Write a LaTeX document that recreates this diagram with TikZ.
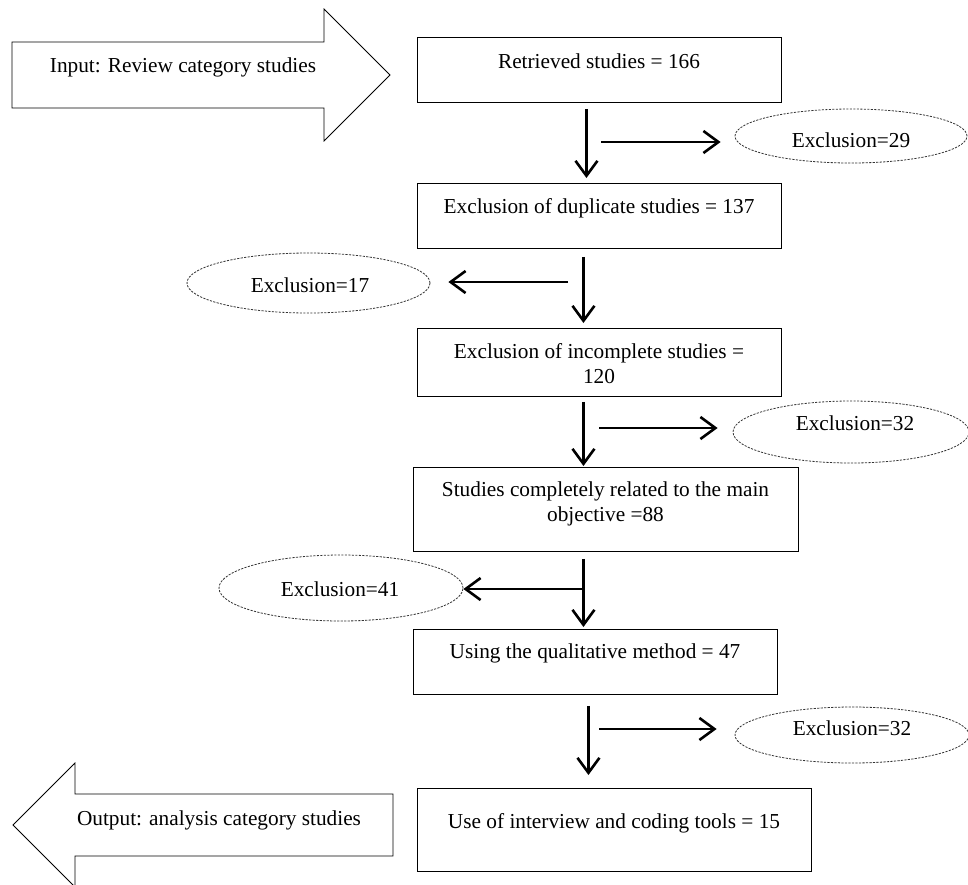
\documentclass[tikz,border=0pt]{standalone}
\usepackage{fontspec}
\setmainfont{Liberation Serif}
\usetikzlibrary{arrows.meta,shapes.geometric}
\begin{document}
\begin{tikzpicture}[x=1pt,y=-1pt,
  box/.style={draw=black, line width=0.9pt, inner sep=0pt, anchor=north west},
  txt/.style={font=\fontsize{21.3}{25}\selectfont, inner sep=0pt, align=center},
  excl/.style={draw=black!80, line width=0.8pt, dash pattern=on 2.2pt off 1.3pt,
               ellipse, inner sep=0pt},
  arr/.style={line width=2.6pt, -{Straight Barb[length=15pt,width=22pt]}},
  bigarrow/.style={draw=black, line width=0.8pt}
]
\useasboundingbox (0,0) rectangle (968,884);

% big block arrows
\draw[bigarrow] (12,42) -- (324,42) -- (324,9) -- (390,75) -- (324,141) -- (324,108) -- (12,108) -- cycle;
\node[txt, anchor=base] (tin) at (183,72) {Input: Review category studies};
\draw[bigarrow] (393,794) -- (75,794) -- (75,763) -- (13,825) -- (75,887) -- (75,856) -- (393,856) -- cycle;
\node[txt, anchor=base] (tout) at (219,825) {Output: analysis category studies};

% boxes
\node[box, minimum width=364pt, minimum height=65pt] (b1) at (417,37) {};
\node[box, minimum width=364pt, minimum height=65pt] (b2) at (417,183) {};
\node[box, minimum width=364pt, minimum height=68pt] (b3) at (417,328) {};
\node[box, minimum width=385pt, minimum height=84pt] (b4) at (413,467) {};
\node[box, minimum width=364pt, minimum height=65pt] (b5) at (413,629) {};
\node[box, minimum width=394pt, minimum height=83pt] (b6) at (417,788) {};

\node[txt, anchor=base] (t1) at (599,68) {Retrieved studies = 166};
\node[txt, anchor=base] (t2) at (599,213) {Exclusion of duplicate studies = 137};
\node[txt, anchor=north] (t3) at (599,343) {Exclusion of incomplete studies =\\120};
\node[txt, anchor=north] (t4) at (605.5,482) {Studies completely related to the main\\objective =88};
\node[txt, anchor=base] (t5) at (595,658) {Using the qualitative method = 47};
\node[txt, anchor=base] (t6) at (614,828) {Use of interview and coding tools = 15};

% exclusion ellipses
\node[excl, minimum width=232pt, minimum height=54pt] (e1) at (851,136) {};
\node[excl, minimum width=243pt, minimum height=60pt] (e2) at (308.5,283) {};
\node[excl, minimum width=236pt, minimum height=62pt] (e3) at (851,432) {};
\node[excl, minimum width=244pt, minimum height=66pt] (e4) at (341,588) {};
\node[excl, minimum width=234pt, minimum height=56pt] (e5) at (852,735) {};

\node[txt, anchor=base] (x1) at (851,147) {Exclusion=29};
\node[txt, anchor=base] (x2) at (310,292) {Exclusion=17};
\node[txt, anchor=base] (x3) at (855,430) {Exclusion=32};
\node[txt, anchor=base] (x4) at (340,596) {Exclusion=41};
\node[txt, anchor=base] (x5) at (852,735) {Exclusion=32};

% main flow arrows
\draw[arr, shorten <=6pt, shorten >=5pt] ([xshift=-13pt]b1.south) -- ([xshift=-13pt]b2.north);
\draw[arr, shorten <=8pt, shorten >=5pt] ([xshift=-16pt]b2.south) -- ([xshift=-16pt]b3.north);
\draw[arr, shorten <=5pt, shorten >=1pt] ([xshift=-16pt]b3.south) -- ([xshift=-22.5pt]b4.north);
\draw[arr, shorten <=7pt, shorten >=2pt] ([xshift=-22.5pt]b4.south) -- ([xshift=-12pt]b5.north);
\draw[arr, shorten <=11pt, shorten >=13pt] ([xshift=-7pt]b5.south) -- ([xshift=-26pt]b6.north);

% branch arrows
\coordinate (s1) at (601,142);
\coordinate (s2) at (568,282);
\coordinate (s3) at (599,428);
\coordinate (s4) at (583,589);
\coordinate (s5) at (599,729);
\draw[arr, shorten >=14pt] (s1) -- (s1 -| e1.west);
\draw[arr, shorten >=18pt] (s2) -- (s2 -| e2.east);
\draw[arr, shorten >=15pt] (s3) -- (s3 -| e3.west);
\draw[arr] (s4) -- (s4 -| e4.east);
\draw[arr, shorten >=18pt] (s5) -- (s5 -| e5.west);
\end{tikzpicture}
\end{document}
